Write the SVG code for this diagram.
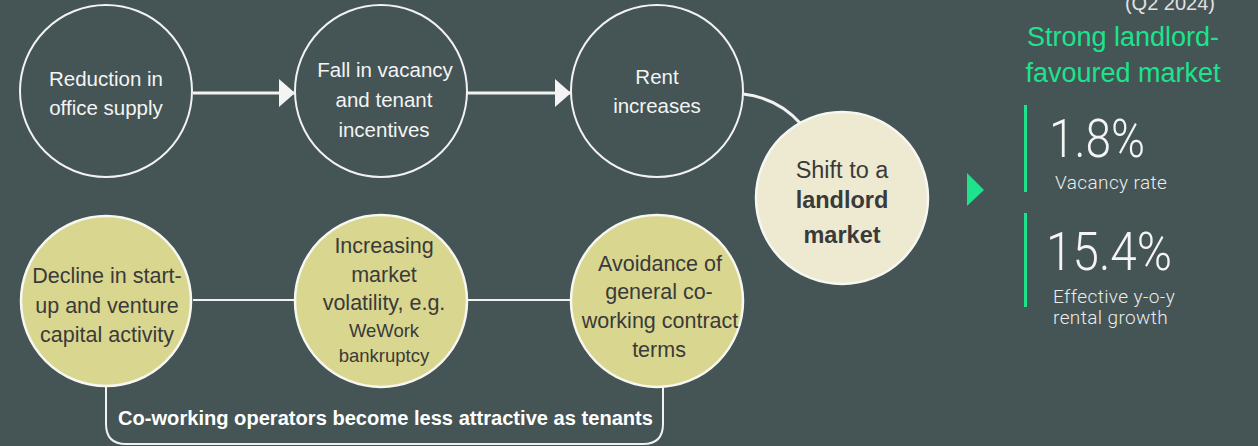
<svg xmlns="http://www.w3.org/2000/svg" width="1258" height="446" viewBox="0 0 1258 446">
<defs>
<style>
.bg{fill:#455454}
.oc{fill:none;stroke:#f2f2f2;stroke-width:2}
.yc{fill:#d9d68f;stroke:#f7f7f2;stroke-width:2.5}
.sc{fill:#edead1;stroke:#f7f7f2;stroke-width:2.5}
.line{fill:none;stroke:#f2f2f2;stroke-width:3}
.thin{fill:none;stroke:#f2f2f2;stroke-width:2}
.wt{font-family:"Liberation Sans",Arial,sans-serif;font-size:20.5px;fill:#f4f4f4;text-anchor:middle}
.dt{font-family:"Liberation Sans",Arial,sans-serif;font-size:21.5px;fill:#3a3a3a;text-anchor:middle}
.st{font-size:23.5px}
.bd{font-weight:bold}
.gr{font-family:"Liberation Sans",Arial,sans-serif;font-size:27px;fill:#1de38d}
.big{font-family:Roboto,"Liberation Sans",sans-serif;font-weight:300;font-size:54px;fill:#f4f4f4}
.lab{font-family:Roboto,"Liberation Sans",sans-serif;font-weight:300;font-size:19px;fill:#ececec;letter-spacing:0.4px}
</style>
<marker id="ah" viewBox="0 0 16 28" refX="16" refY="14" markerWidth="16" markerHeight="28" markerUnits="userSpaceOnUse" orient="auto">
<path d="M0,0 L16,14 L0,28 Z" fill="#f4f4f4"/>
</marker>
</defs>
<rect class="bg" x="0" y="0" width="1258" height="446"/>

<g id="connectors">
<path class="line" d="M193,93 H295" marker-end="url(#ah)"/>
<path class="line" d="M467,93 H571" marker-end="url(#ah)"/>
<path class="line" d="M743,94 Q778,98 801,124"/>
<path class="thin" d="M193,300 H295"/>
<path class="thin" d="M468,300 H570"/>
<path class="thin" d="M106,386 V424 Q106,444 126,444 H643 Q663,444 663,424 V386"/>
</g>

<g id="n1">
<circle class="oc" cx="106" cy="91" r="86"/>
<text class="wt" x="106" y="86">Reduction in</text>
<text class="wt" x="106" y="115">office supply</text>
</g>
<g id="n2">
<circle class="oc" cx="381" cy="91" r="86"/>
<text class="wt" x="385" y="77">Fall in vacancy</text>
<text class="wt" x="384" y="107">and tenant</text>
<text class="wt" x="384" y="137">incentives</text>
</g>
<g id="n3">
<circle class="oc" cx="657" cy="91" r="86"/>
<text class="wt" x="657" y="84">Rent</text>
<text class="wt" x="657" y="113">increases</text>
</g>
<g id="n4">
<circle class="sc" cx="842" cy="198" r="86"/>
<text class="dt st" x="842" y="178">Shift to a</text>
<text class="dt st bd" x="842" y="208">landlord</text>
<text class="dt st bd" x="842" y="243">market</text>
</g>
<g id="n5">
<circle class="yc" cx="106" cy="301" r="85"/>
<text class="dt" x="107" y="283">Decline in start-</text>
<text class="dt" x="107" y="313">up and venture</text>
<text class="dt" x="107" y="342">capital activity</text>
</g>
<g id="n6">
<circle class="yc" cx="381" cy="301" r="86"/>
<text class="dt" x="384" y="253">Increasing</text>
<text class="dt" x="384" y="282">market</text>
<text class="dt" x="384" y="310">volatility, e.g.</text>
<text class="dt" x="384" y="337" style="font-size:18.5px">WeWork</text>
<text class="dt" x="384" y="362" style="font-size:18.5px">bankruptcy</text>
</g>
<g id="n7">
<circle class="yc" cx="657" cy="301" r="86"/>
<text class="dt" x="660" y="271">Avoidance of</text>
<text class="dt" x="659" y="299">general co-</text>
<text class="dt" x="660" y="328">working contract</text>
<text class="dt" x="659" y="357">terms</text>
</g>
<g id="bracket-label">
<text x="118" y="425" style="font-family:'Liberation Sans',Arial,sans-serif;font-weight:bold;font-size:20px;fill:#ffffff" textLength="535" lengthAdjust="spacingAndGlyphs">Co-working operators become less attractive as tenants</text>
</g>

<g id="stats">
<path d="M967,173 L984,190 L967,206 Z" fill="#1de38d"/>
<text x="1215" y="10" text-anchor="end" style="font-family:'Liberation Sans',Arial,sans-serif;font-size:20px;fill:#e0e0e0">(Q2 2024)</text>
<text class="gr" x="1123" y="46" text-anchor="middle">Strong landlord-</text>
<text class="gr" x="1123" y="82" text-anchor="middle">favoured market</text>
<rect x="1024" y="105" width="3" height="87" fill="#1de38d"/>
<text class="big" x="1049" y="157" textLength="96" lengthAdjust="spacingAndGlyphs">1.8%</text>
<text class="lab" x="1055" y="189">Vacancy rate</text>
<rect x="1024" y="213" width="3" height="94" fill="#1de38d"/>
<text class="big" x="1046" y="270" textLength="126" lengthAdjust="spacingAndGlyphs">15.4%</text>
<text class="lab" x="1053" y="303">Effective y-o-y</text>
<text class="lab" x="1053" y="324">rental growth</text>
</g>
</svg>
